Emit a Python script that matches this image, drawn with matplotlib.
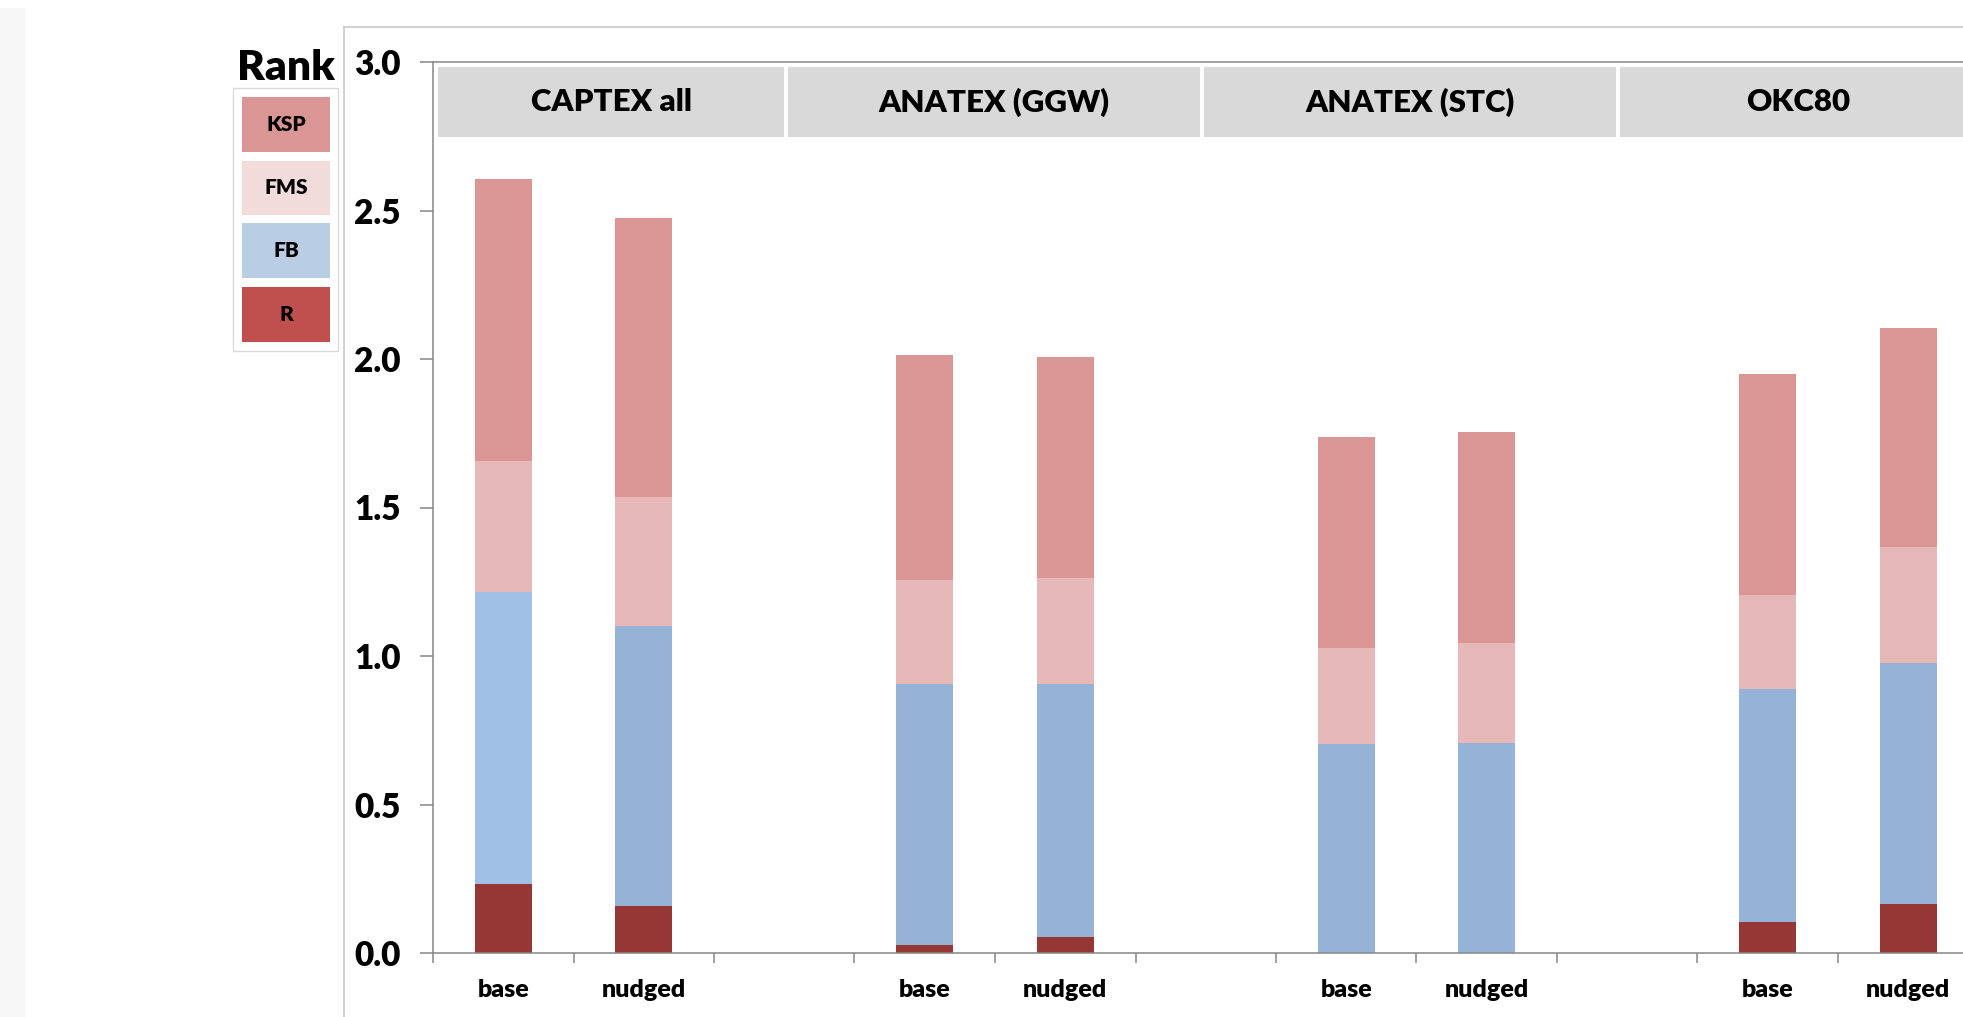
import matplotlib
matplotlib.use("Agg")
import matplotlib.pyplot as plt
from matplotlib.patches import Rectangle
from matplotlib.lines import Line2D
import numpy as np

plt.rcParams['font.family'] = ['Lato', 'DejaVu Sans']
plt.rcParams['font.weight'] = 'bold'

# data: one value per run, in order CAPTEX base/nudged, GGW base/nudged, STC ..., OKC80 ...
groups = ['CAPTEX all', 'ANATEX (GGW)', 'ANATEX (STC)', 'OKC80']
runs = ['base', 'nudged']
R = [0.233, 0.158, 0.027, 0.053, 0.0, 0.0, 0.105, 0.165]
FB = [0.982, 0.943, 0.880, 0.854, 0.704, 0.708, 0.784, 0.810]
FMS = [0.442, 0.434, 0.350, 0.354, 0.323, 0.336, 0.317, 0.392]
KSP = [0.949, 0.940, 0.755, 0.747, 0.710, 0.710, 0.742, 0.737]

stack_names = ['R', 'FB', 'FMS', 'KSP']
stack_vals = [R, FB, FMS, KSP]
bar_cols = ['#953735', '#95B3D7', '#E6B9B8', '#D99694']
legend_cols = {'KSP': '#D99694', 'FMS': '#F2DCDB', 'FB': '#B9CDE5', 'R': '#C0504D'}

W, H = 1963, 1017
fig = plt.figure(figsize=(W / 100, H / 100), dpi=100)

def fx(x):
    return x / W

def fy(y):
    return 1 - y / H

# grey strip on the far left and the chart frame
fig.patches.append(Rectangle((0, 0), fx(25), fy(8), transform=fig.transFigure,
                             facecolor='#f7f7f7', edgecolor='none'))
fig.lines.append(Line2D([fx(344), fx(344)], [0, fy(27)], transform=fig.transFigure,
                        color='#c8c8c8', lw=1.2))
fig.lines.append(Line2D([fx(344), 1], [fy(27), fy(27)], transform=fig.transFigure,
                        color='#c8c8c8', lw=1.2))

ncat = 11
cat_w = 140.5
ax = fig.add_axes([fx(433), 1 - 953 / H, ncat * cat_w / W, 891 / H])
ax.set_xlim(0, ncat)
ax.set_ylim(0, 3.0)

xpos = []
for g in range(len(groups)):
    for r in range(len(runs)):
        xpos.append(3 * g + r + 0.5)
xpos = np.array(xpos)

bottom = np.zeros(len(xpos))
for name, vals, col in zip(stack_names, stack_vals, bar_cols):
    cols = [col] * len(xpos)
    if name == 'FB':
        cols[0] = '#A0C0E5'
    ax.bar(xpos, vals, bottom=bottom, width=0.405, color=cols, edgecolor='none', zorder=2)
    bottom += np.array(vals)

# panel headers
edges = [0.036, 2.512, 5.473, 8.434, 11.0]
for i, name in enumerate(groups):
    x0 = edges[i] + (0.012 if i > 0 else 0)
    x1 = edges[i + 1] - 0.012
    ax.add_patch(Rectangle((x0, 2.747), x1 - x0, 0.236, facecolor='#d9d9d9',
                           edgecolor='none', zorder=1, clip_on=False))
    ax.text((edges[i] + edges[i + 1]) / 2, 2.865, name, ha='center', va='center',
            fontsize=22.5, fontweight='heavy', zorder=3)

axis_col = '#868686'
for s in ['left', 'bottom', 'top']:
    ax.spines[s].set_color(axis_col)
    ax.spines[s].set_linewidth(1.1)
ax.spines['right'].set_visible(False)

ax.set_yticks(np.arange(0, 3.01, 0.5))
ax.set_yticklabels([f'{v:.1f}' for v in np.arange(0, 3.01, 0.5)], fontsize=24, fontweight='heavy')
ax.tick_params(axis='y', direction='out', length=9.4, width=1.1, color=axis_col, pad=14)

ax.set_xticks(np.arange(0, ncat + 1))
ax.set_xticklabels([])
ax.tick_params(axis='x', which='major', direction='out', length=7.2, width=1.1, color=axis_col)
ax.set_xticks(xpos, minor=True)
ax.set_xticklabels(runs * len(groups), minor=True, fontsize=18, fontweight='heavy')
ax.tick_params(axis='x', which='minor', length=0, pad=19)

# legend table
fig.text(fx(286), fy(68), 'Rank', ha='center', va='center', fontsize=30.5, fontweight='heavy')
fig.patches.append(Rectangle((fx(233), fy(351)), fx(338) - fx(233), fy(88) - fy(351),
                             transform=fig.transFigure, facecolor='white',
                             edgecolor='#d9d9d9', lw=1.0))
cells = [('KSP', 97, 152), ('FMS', 161, 215), ('FB', 223, 278), ('R', 287, 342)]
for lab, y0, y1 in cells:
    fig.patches.append(Rectangle((fx(242), fy(y1)), fx(330) - fx(242), fy(y0) - fy(y1),
                                 transform=fig.transFigure, facecolor=legend_cols[lab],
                                 edgecolor='none'))
    fig.text(fx(286), fy((y0 + y1) / 2), lab, ha='center', va='center',
             fontsize=15, fontweight='heavy')

fig.savefig('out.png', dpi=100, facecolor='white')
